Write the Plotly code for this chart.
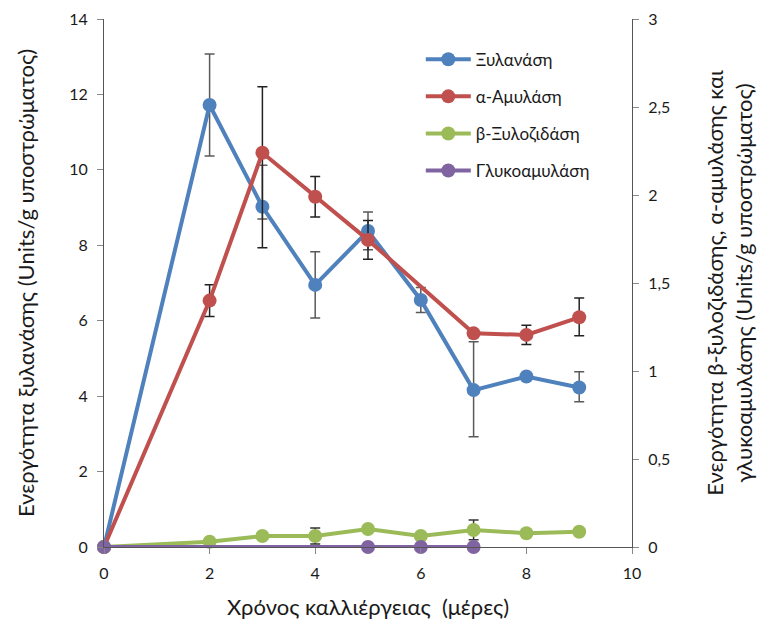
import plotly.graph_objects as go

# Data
days_xyl = [0, 2, 3, 4, 5, 6, 7, 8, 9]
xylanase = [0, 11.72, 9.02, 6.95, 8.38, 6.55, 4.16, 4.52, 4.23]
xylanase_err_plus = [0, 1.35, 1.1, 0.88, 0.5, 0.33, 1.28, 0, 0.42]
xylanase_err_minus = [0, 1.35, 0.32, 0.88, 0.5, 0.33, 1.24, 0, 0.38]

days_amy = [0, 2, 3, 4, 5, 7, 8, 9]
amylase = [0, 1.40, 2.24, 1.99, 1.745, 1.214, 1.205, 1.305]
amylase_err_plus = [0, 0.09, 0.375, 0.115, 0.11, 0.0, 0.055, 0.11]
amylase_err_minus = [0, 0.09, 0.54, 0.115, 0.11, 0.0, 0.055, 0.105]

days_bxyl = [0, 2, 3, 4, 5, 6, 7, 8, 9]
bxylosidase = [0, 0.030, 0.0625, 0.0625, 0.102, 0.0625, 0.097, 0.078, 0.087]
bxylosidase_err = [0, 0, 0, 0.045, 0, 0, 0.056, 0, 0]

days_gluco = [0, 5, 6, 7]
glucoamylase = [0, 0, 0, 0]

names = ["Ξυλανάση", "α-Αμυλάση", "β-Ξυλοζιδάση", "Γλυκοαμυλάση"]
colors = ["#4F81BD", "#C0504D", "#9BBB59", "#8064A2"]

FONT = "Lato"
TXT = "#1a1a1a"

fig = go.Figure()

fig.add_trace(go.Scatter(x=days_xyl, y=xylanase, name=names[0], mode="lines+markers",
                         legendgroup="a",
                         line=dict(color=colors[0], width=4), marker=dict(size=14, color=colors[0]),
                         error_y=dict(type="data", array=xylanase_err_plus, arrayminus=xylanase_err_minus,
                                      symmetric=False, visible=True, color="#5a5a5a", thickness=1.5, width=5),
                         cliponaxis=False, yaxis="y"))
fig.add_trace(go.Scatter(x=days_amy, y=amylase, name=names[1], mode="lines+markers",
                         legendgroup="b",
                         line=dict(color=colors[1], width=4), marker=dict(size=14, color=colors[1]),
                         error_y=dict(type="data", array=amylase_err_plus, arrayminus=amylase_err_minus,
                                      symmetric=False, visible=True, color="#222222", thickness=1.5, width=5),
                         cliponaxis=False, yaxis="y2"))
fig.add_trace(go.Scatter(x=days_bxyl, y=bxylosidase, name=names[2], mode="lines+markers",
                         legendgroup="c",
                         line=dict(color=colors[2], width=4), marker=dict(size=14, color=colors[2]),
                         error_y=dict(type="data", array=bxylosidase_err, visible=True,
                                      color="#333333", thickness=1.5, width=5),
                         cliponaxis=False, yaxis="y2"))
fig.add_trace(go.Scatter(x=days_gluco, y=glucoamylase, name=names[3], mode="lines+markers",
                         legendgroup="d",
                         line=dict(color=colors[3], width=4), marker=dict(size=14, color=colors[3]),
                         cliponaxis=False, yaxis="y2"))

axis_common = dict(showgrid=False, zeroline=False, showline=True, linecolor="#555555", linewidth=1,
                   ticks="outside", ticklen=6, tickcolor="#888888", ticklabelstandoff=6,
                   automargin=False,
                   tickfont=dict(family=FONT, size=16, color=TXT))

fig.update_layout(
    width=757, height=631,
    margin=dict(l=104, r=125, t=19, b=84),
    paper_bgcolor="white", plot_bgcolor="white",
    separators=",.",
    font=dict(family=FONT, size=16, color=TXT),
    showlegend=True,
    legend=dict(x=0.60, y=0.957, xanchor="left", yanchor="top",
                font=dict(family=FONT, size=17, color=TXT),
                bgcolor="rgba(0,0,0,0)", traceorder="grouped", tracegroupgap=12, itemwidth=45),
    xaxis=dict(range=[0, 10], dtick=2, tick0=0, **axis_common,
               title=dict(text="Χρόνος καλλιέργειας  (μέρες)", font=dict(size=22, family=FONT, color=TXT), standoff=18)),
    yaxis=dict(range=[0, 14], dtick=2, tick0=0, **axis_common,
               title=dict(text="Ενεργότητα ξυλανάσης (Units/g υποστρώματος)", font=dict(size=22, family=FONT, color=TXT), standoff=28)),
    yaxis2=dict(range=[0, 3], dtick=0.5, tick0=0, overlaying="y", side="right", **axis_common,
                title=dict(text="Ενεργότητα β-ξυλοζιδάσης, α-αμυλάσης και<br>γλυκοαμυλάσης (Units/g υποστρώματος)",
                           font=dict(size=22, family=FONT, color=TXT), standoff=43)),
)

fig.write_html("out.html")
